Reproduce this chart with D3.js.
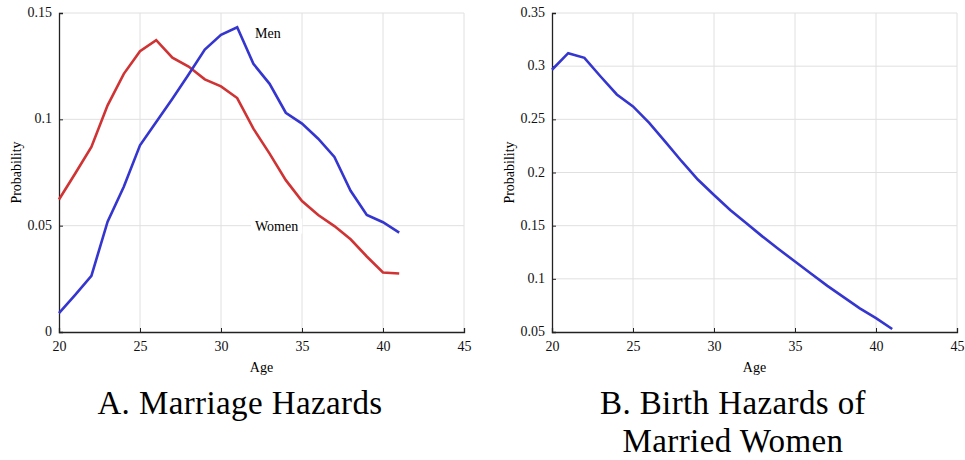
<!DOCTYPE html>
<html>
<head>
<meta charset="utf-8">
<script src="https://cdn.jsdelivr.net/npm/d3@7"></script>
<style>
  body { margin: 0; background: #fff; }
</style>
</head>
<body>
<div id="chart"></div>
<script>
// ages on the x axis
const ages = d3.range(20, 42);

// marriage hazards (panel A)
const menMarriage = [
  0.0089, 0.0175, 0.0264, 0.0519, 0.0683, 0.0878, 0.0988, 0.1097, 0.1211, 0.1328, 0.1397,
  0.1433, 0.1261, 0.1167, 0.1031, 0.098, 0.0909, 0.0823, 0.0664, 0.055, 0.0516, 0.0467,
];
const womenMarriage = [
  0.0623, 0.0745, 0.087, 0.1066, 0.1214, 0.132, 0.1372, 0.129, 0.1248, 0.1188, 0.1155,
  0.11, 0.0956, 0.0839, 0.0714, 0.0616, 0.055, 0.0498, 0.0436, 0.0355, 0.028, 0.0275,
];

// birth hazards of married women (panel B)
const birthHazard = [
  0.2966, 0.3122, 0.3078, 0.2903, 0.2734, 0.2622, 0.2466, 0.2288, 0.2106, 0.1934, 0.1788,
  0.1647, 0.1522, 0.1397, 0.1278, 0.1163, 0.1047, 0.0934, 0.0828, 0.0722, 0.0631, 0.0528,
];

// tick labels
const xTicks = [20, 25, 30, 35, 40, 45];
const yTicksA = [0, 0.05, 0.1, 0.15];
const yTicksB = [0.05, 0.1, 0.15, 0.2, 0.25, 0.3, 0.35];

const W = 965;
const H = 460;
const red = "#d03333";
const blue = "#3535cf";
const serif = '"Liberation Serif", "Times New Roman", serif';

const svg = d3
  .select("#chart")
  .append("svg")
  .attr("width", W)
  .attr("height", H);

function drawPanel(opts) {
  const top = 13;
  const bottom = 332;
  const x = d3.scaleLinear().domain([20, 45]).range([opts.left, opts.left + 405]);
  const y = d3.scaleLinear().domain(opts.yDomain).range([bottom, top]);
  const g = svg.append("g");

  // grid lines
  g.selectAll(".vgrid")
    .data(xTicks.slice(1))
    .enter()
    .append("line")
    .attr("x1", (d) => x(d))
    .attr("x2", (d) => x(d))
    .attr("y1", top)
    .attr("y2", bottom)
    .attr("stroke", "#e0e0e0")
    .attr("stroke-width", 1);
  g.selectAll(".hgrid")
    .data(opts.yTicks.slice(1))
    .enter()
    .append("line")
    .attr("x1", x(20))
    .attr("x2", x(45))
    .attr("y1", (d) => y(d))
    .attr("y2", (d) => y(d))
    .attr("stroke", "#e0e0e0")
    .attr("stroke-width", 1);

  // axes with inward ticks
  const xAxis = d3.axisBottom(x).tickValues(xTicks).tickSize(-4).tickPadding(9).tickFormat(d3.format("d"));
  const yAxis = d3.axisLeft(y).tickValues(opts.yTicks).tickSize(-4).tickPadding(7).tickFormat((d) => String(+d.toFixed(2)));

  const gx = g.append("g").attr("transform", `translate(0,${bottom})`).call(xAxis);
  const gy = g.append("g").attr("transform", `translate(${x(20)},0)`).call(yAxis);
  [gx, gy].forEach((a) => {
    a.select(".domain").attr("stroke", "#222").attr("stroke-width", 1.3);
    a.selectAll(".tick line").attr("stroke", "#222");
    a.selectAll("text").style("font-family", serif).style("font-size", "14px").attr("fill", "#111");
  });
  gy.selectAll(".tick text").attr("dy", "0.25em");

  // axis titles
  g.append("text")
    .attr("x", (x(20) + x(45)) / 2)
    .attr("y", 372)
    .attr("text-anchor", "middle")
    .style("font-family", serif)
    .style("font-size", "14px")
    .text("Age");
  g.append("text")
    .attr("transform", `translate(${opts.left - 38},${(top + bottom) / 2}) rotate(-90)`)
    .attr("text-anchor", "middle")
    .style("font-family", serif)
    .style("font-size", "14px")
    .text("Probability");

  const line = d3
    .line()
    .x((d, i) => x(ages[i]))
    .y((d) => y(d));

  opts.series.forEach((s) => {
    g.append("path")
      .datum(s.values)
      .attr("d", line)
      .attr("fill", "none")
      .attr("stroke", s.color)
      .attr("stroke-width", 2.6)
      .attr("stroke-linejoin", "miter");
  });

  // labels on the lines
  (opts.labels || []).forEach((l) => {
    const t = g.append("text")
      .attr("x", x(l.age))
      .attr("y", y(l.value))
      .attr("dy", "0.35em")
      .style("font-family", serif)
      .style("font-size", "14px")
      .text(l.text);
    const bb = t.node().getBBox();
    g.insert("rect", () => t.node())
      .attr("x", bb.x - 4)
      .attr("y", bb.y)
      .attr("width", bb.width + 8)
      .attr("height", bb.height)
      .attr("fill", "#fff");
  });

  // panel title
  const title = g.append("text")
    .attr("text-anchor", "middle")
    .style("font-family", serif)
    .style("font-size", "33px")
    .style("letter-spacing", "0.4px");
  opts.title.forEach((t, i) => {
    title.append("tspan")
      .attr("x", opts.titleX)
      .attr("y", 414 + i * 38)
      .text(t);
  });
}

drawPanel({
  left: 59,
  yDomain: [0, 0.15],
  yTicks: yTicksA,
  series: [
    { values: womenMarriage, color: red },
    { values: menMarriage, color: blue },
  ],
  labels: [
    { text: "Men", age: 32.1, value: 0.1405 },
    { text: "Women", age: 32.1, value: 0.05 },
  ],
  title: ["A. Marriage Hazards"],
  titleX: 240,
});

drawPanel({
  left: 552,
  yDomain: [0.05, 0.35],
  yTicks: yTicksB,
  series: [{ values: birthHazard, color: blue }],
  title: ["B. Birth Hazards of", "Married Women"],
  titleX: 733,
});
</script>
</body>
</html>
